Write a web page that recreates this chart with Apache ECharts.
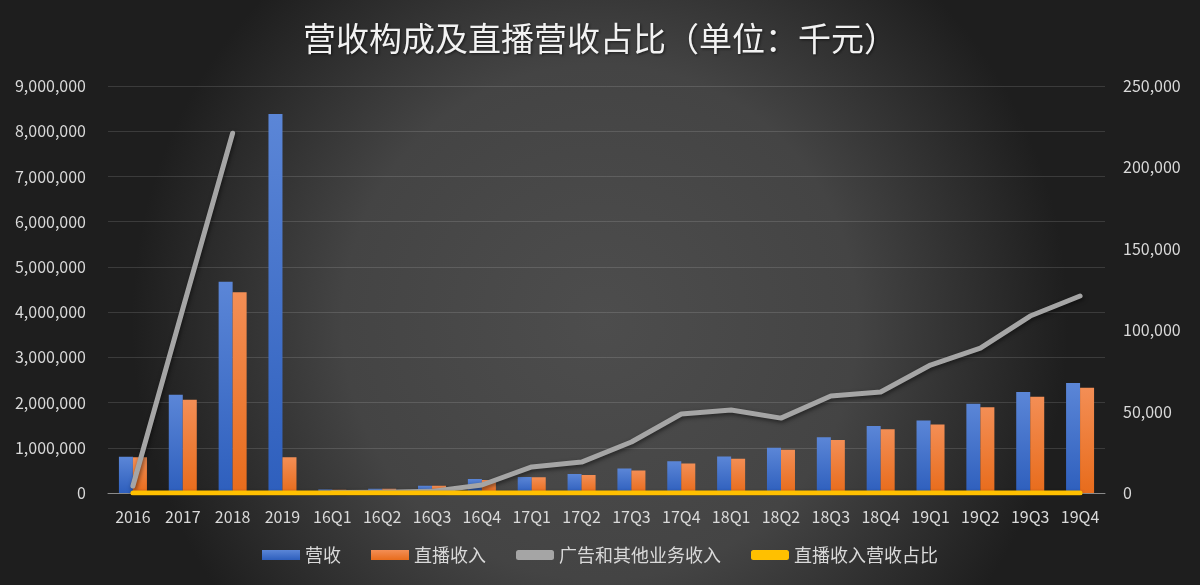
<!DOCTYPE html>
<html><head><meta charset="utf-8">
<script src="https://cdn.jsdelivr.net/npm/echarts@6/dist/echarts.min.js"></script>
<style>html,body{margin:0;padding:0;background:#333}#c{width:1200px;height:585px}</style>
</head><body><div id="c"></div>
<script>
const categories = ['2016','2017','2018','2019','16Q1','16Q2','16Q3','16Q4','17Q1','17Q2','17Q3','17Q4','18Q1','18Q2','18Q3','18Q4','19Q1','19Q2','19Q3','19Q4'];
const revenue = [800000,2170000,4670000,8380000,75000,96000,163000,310000,355000,420000,540000,700000,805000,1000000,1235000,1480000,1605000,1975000,2235000,2430000];
const liveRevenue = [790000,2060000,4440000,790000,74000,95000,160000,290000,350000,400000,500000,650000,760000,955000,1170000,1410000,1515000,1895000,2130000,2330000];
const adRevenue = [4300,113000,221000,null,300,500,1000,4900,16000,19000,31300,48500,51000,46000,59600,62000,78600,89000,108700,121000];
const liveRatio = [0.99,0.95,0.95,0.09,0.99,0.99,0.98,0.94,0.99,0.95,0.93,0.93,0.94,0.96,0.95,0.95,0.94,0.96,0.95,0.96];
const leftTicks = {min:0,max:9000000,interval:1000000};
const rightTicks = {min:0,max:250000,interval:50000};

const fmt = v => v.toLocaleString('en-US');
const chart = echarts.init(document.getElementById('c'));
const font = '"Noto Sans CJK SC","Noto Sans",sans-serif';
chart.setOption({
  backgroundColor: {type:'radial',x:0.5,y:0.55,r:0.8,colorStops:[{offset:0,color:'#4d4d4d'},{offset:0.55,color:'#444444'},{offset:1,color:'#1e1e1e'}]},
  textStyle:{fontFamily:font},
  title:{text:'营收构成及直播营收占比（单位：千元）',left:'center',top:17,textStyle:{color:'#f2f2f2',fontSize:33,fontWeight:'normal',fontFamily:font,textShadowColor:'rgba(0,0,0,0.6)',textShadowBlur:3,textShadowOffsetX:1,textShadowOffsetY:1}},
  legend:{bottom:16,left:'center',itemWidth:38,itemHeight:10,itemGap:30,textStyle:{color:'#d9d9d9',fontSize:18,fontFamily:font},
    data:[{name:'营收',icon:'rect'},{name:'直播收入',icon:'rect'},{name:'广告和其他业务收入',icon:'roundRect'},{name:'直播收入营收占比',icon:'roundRect'}]},
  grid:{left:108,right:95,top:86,bottom:92},
  xAxis:{type:'category',data:categories,axisTick:{show:false},axisLine:{lineStyle:{color:'#8a8a8a'}},
    axisLabel:{color:'#d9d9d9',fontSize:16,margin:16,interval:0}},
  yAxis:[
    {type:'value',min:leftTicks.min,max:leftTicks.max,interval:leftTicks.interval,axisLabel:{color:'#d9d9d9',fontSize:16,margin:22,formatter:fmt},
      splitLine:{lineStyle:{color:'rgba(255,255,255,0.13)'}},axisLine:{show:false},axisTick:{show:false}},
    {type:'value',min:rightTicks.min,max:rightTicks.max,interval:rightTicks.interval,axisLabel:{color:'#d9d9d9',fontSize:16,margin:18,formatter:fmt},
      splitLine:{show:false},axisLine:{show:false},axisTick:{show:false}}
  ],
  series:[
    {name:'营收',type:'bar',data:revenue,barWidth:14,barGap:'0%',
      itemStyle:{color:{type:'linear',x:0,y:0,x2:0,y2:1,colorStops:[{offset:0,color:'#5b86d7'},{offset:1,color:'#2e5fbd'}]},shadowColor:'rgba(0,0,0,0.35)',shadowBlur:3,shadowOffsetX:1,shadowOffsetY:1}},
    {name:'直播收入',type:'bar',data:liveRevenue,barWidth:14,barGap:'0%',
      itemStyle:{color:{type:'linear',x:0,y:0,x2:0,y2:1,colorStops:[{offset:0,color:'#f38e55'},{offset:1,color:'#e86c1c'}]},shadowColor:'rgba(0,0,0,0.35)',shadowBlur:3,shadowOffsetX:1,shadowOffsetY:1}},
    {name:'广告和其他业务收入',type:'line',yAxisIndex:1,data:adRevenue,showSymbol:false,symbol:'none',connectNulls:false,
      itemStyle:{color:'#a5a5a5'},lineStyle:{color:'#a5a5a5',width:5,cap:'round',join:'round',shadowColor:'rgba(0,0,0,0.5)',shadowBlur:4,shadowOffsetX:1,shadowOffsetY:2}},
    {name:'直播收入营收占比',type:'line',yAxisIndex:1,data:liveRatio,showSymbol:false,symbol:'none',
      itemStyle:{color:'#ffc000'},lineStyle:{color:'#ffc000',width:5,cap:'round',shadowColor:'rgba(0,0,0,0.4)',shadowBlur:3,shadowOffsetY:1}}
  ]
});
</script></body></html>
